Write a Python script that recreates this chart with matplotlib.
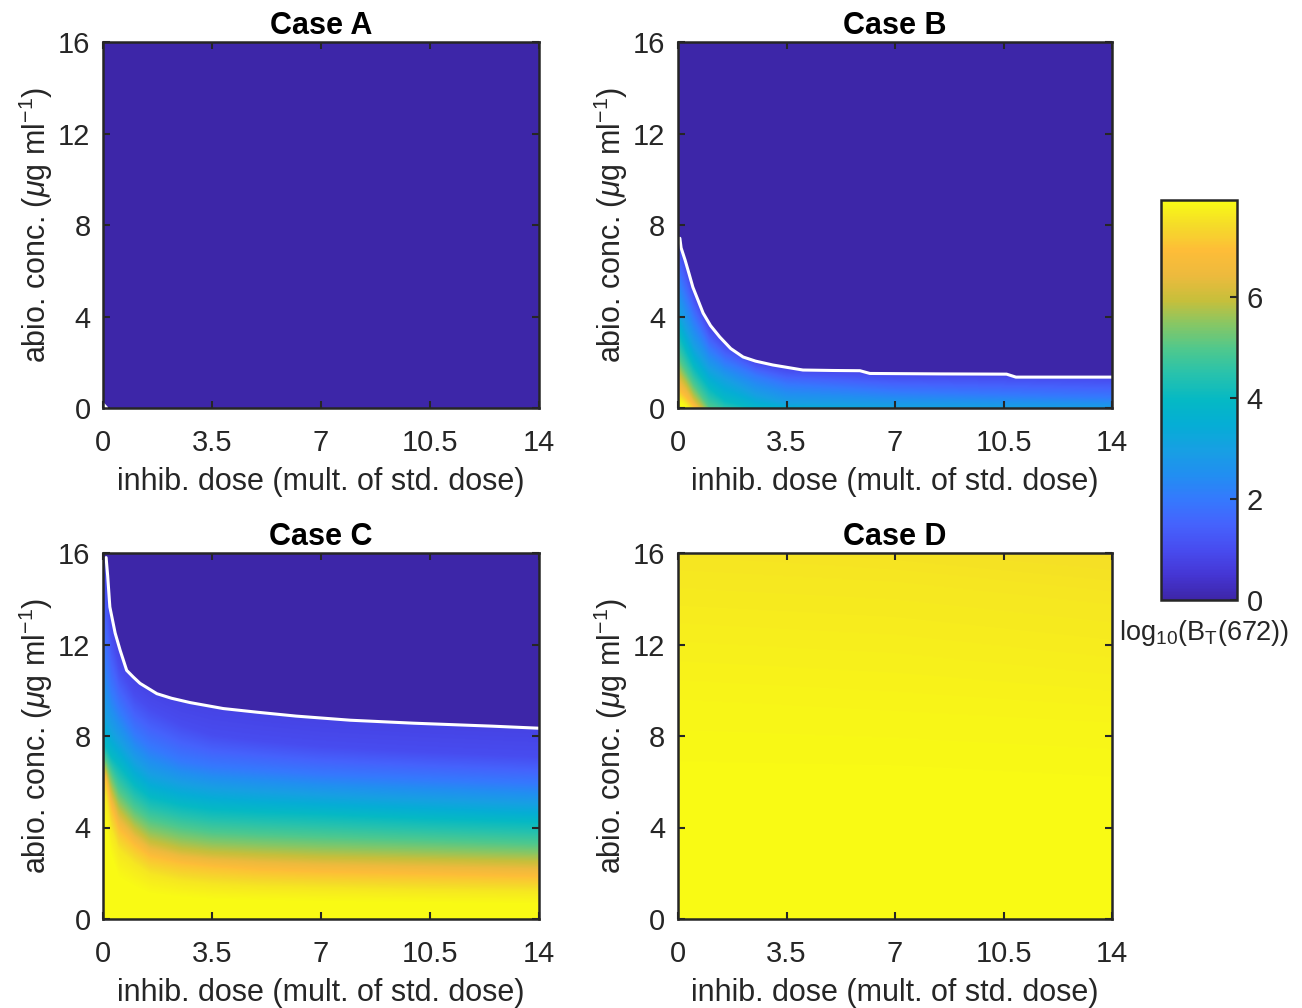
import numpy as np
import matplotlib
matplotlib.use('Agg')
import matplotlib.pyplot as plt
from matplotlib.colors import LinearSegmentedColormap

# ---------------- data ----------------
titles = ['Case A', 'Case B', 'Case C', 'Case D']
x_ticks = [0, 3.5, 7, 10.5, 14]
x_tick_labels = ['0', '3.5', '7', '10.5', '14']
y_ticks = [0, 4, 8, 12, 16]
cbar_ticks = [0, 2, 4, 6]
value_min = 0.0
value_max = 7.92

# white extinction contour of each case (inhib. dose, abio. conc.)
contour_a_x = [0.0, 0.12]
contour_a_y = [0.18, 0.0]
contour_b_x = [0.06, 0.10, 0.23, 0.35, 0.48, 0.65, 0.81, 1.05, 1.35, 1.70, 2.10, 2.50,
               3.06, 3.50, 4.03, 5.00, 5.87, 6.19, 8.50, 10.60, 10.90, 14.00]
contour_b_y = [7.42, 7.00, 6.46, 5.90, 5.28, 4.70, 4.15, 3.60, 3.10, 2.60, 2.23, 2.05,
               1.88, 1.78, 1.66, 1.64, 1.63, 1.51, 1.49, 1.48, 1.35, 1.35]
contour_c_x = [0.10, 0.15, 0.22, 0.39, 0.55, 0.76, 0.97, 1.19, 1.73, 2.20, 2.80, 3.86,
               4.95, 6.20, 7.94, 9.97, 12.50, 14.00]
contour_c_y = [15.80, 15.00, 13.64, 12.50, 11.75, 10.87, 10.58, 10.30, 9.85, 9.65, 9.46, 9.20,
               9.04, 8.87, 8.69, 8.56, 8.43, 8.34]

# case A: extinct everywhere
value_a = 0.0

# case B: heights (abio. conc.) of log10 iso-levels at sampled doses
levels_b = [0.8, 1, 2, 3, 4, 5, 6, 7, 7.6, 7.9]
doses_b = [0, 0.25, 0.5, 1.0, 1.5, 2.5, 3.5, 7, 14]
heights_b = [
    [7.40, 6.40, 5.20, 3.65, 2.90, 2.05, 1.78, 1.50, 1.35],
    [7.20, 6.10, 4.95, 3.45, 2.75, 1.95, 1.65, 1.40, 1.25],
    [5.80, 4.80, 3.90, 2.60, 2.00, 1.40, 1.00, 0.70, 0.45],
    [4.30, 3.50, 2.70, 1.70, 1.25, 0.55, 0.20, 0.05, -0.05],
    [3.30, 2.50, 1.80, 0.85, 0.30, -0.10, -0.20, -0.30, -0.40],
    [2.20, 1.60, 1.00, 0.00, -0.30, -0.50, -0.60, -0.70, -0.80],
    [1.50, 1.00, 0.40, -0.40, -0.80, -0.90, -1.00, -1.10, -1.20],
    [0.80, 0.45, 0.05, -0.80, -1.20, -1.30, -1.40, -1.50, -1.60],
    [0.50, 0.20, -0.20, -1.00, -1.50, -1.60, -1.70, -1.80, -1.90],
    [0.25, 0.00, -0.40, -1.20, -1.70, -1.80, -1.90, -2.00, -2.10],
]

# case C
levels_c = [0.8, 1, 2, 3, 4, 5, 6, 7, 7.6, 7.9]
doses_c = [0, 0.1, 0.25, 0.5, 1, 1.5, 2.5, 3.5, 5, 7, 10.5, 14]
heights_c = [
    [16.0, 15.8, 13.3, 11.9, 10.6, 10.1, 9.55, 9.3, 9.05, 8.75, 8.5, 8.3],
    [15.0, 14.5, 12.5, 11.0, 9.8, 9.2, 8.5, 8.05, 7.8, 7.55, 7.3, 7.1],
    [11.5, 11.0, 10.0, 9.2, 8.1, 7.5, 6.9, 6.65, 6.5, 6.3, 6.1, 5.9],
    [9.0, 8.8, 8.3, 7.8, 6.9, 6.3, 5.9, 5.7, 5.55, 5.4, 5.2, 5.0],
    [7.6, 7.5, 7.1, 6.7, 5.85, 5.3, 4.95, 4.75, 4.65, 4.55, 4.35, 4.2],
    [7.0, 6.9, 6.4, 5.6, 4.8, 4.3, 3.95, 3.75, 3.65, 3.55, 3.4, 3.25],
    [6.5, 6.4, 5.6, 4.7, 3.9, 3.35, 3.0, 2.85, 2.75, 2.65, 2.55, 2.45],
    [6.1, 6.0, 4.9, 3.9, 3.2, 2.7, 2.4, 2.25, 2.1, 2.0, 1.9, 1.8],
    [5.4, 5.3, 4.0, 3.0, 2.4, 1.95, 1.65, 1.5, 1.4, 1.35, 1.25, 1.2],
    [4.1, 4.0, 2.8, 1.8, 1.4, 1.1, 0.95, 0.85, 0.8, 0.75, 0.7, 0.65],
]

# case D: survives everywhere
levels_d = [7.45, 7.6, 7.72, 7.83, 7.92]
doses_d = [0, 7, 14]
heights_d = [
    [18.0, 17.0, 16.3],
    [15.5, 15.0, 14.0],
    [12.5, 12.0, 11.0],
    [9.5, 9.0, 8.5],
    [5.5, 5.5, 5.0],
]

# ---------------- colormap (MATLAB parula look) ----------------
parula_pos = [0.0, 0.063, 0.125, 0.188, 0.25, 0.313, 0.375, 0.438, 0.5, 0.563,
              0.625, 0.688, 0.75, 0.813, 0.875, 0.938, 1.0]
parula_rgb = [(0.242, 0.150, 0.660), (0.270, 0.214, 0.835), (0.281, 0.299, 0.940),
              (0.271, 0.386, 0.990), (0.207, 0.474, 0.993), (0.130, 0.560, 0.945),
              (0.090, 0.625, 0.890), (0.020, 0.680, 0.835), (0.020, 0.725, 0.770),
              (0.150, 0.760, 0.680), (0.300, 0.785, 0.560), (0.520, 0.780, 0.400),
              (0.780, 0.750, 0.230), (0.930, 0.730, 0.240), (0.995, 0.740, 0.220),
              (0.960, 0.860, 0.160), (0.977, 0.984, 0.081)]
cmap = LinearSegmentedColormap.from_list('parula_like', list(zip(parula_pos, parula_rgb)), N=256)

# ---------------- style ----------------
plt.rcParams['font.family'] = ['Liberation Sans', 'DejaVu Sans']
plt.rcParams['mathtext.fontset'] = 'custom'
plt.rcParams['mathtext.rm'] = 'Liberation Sans'
plt.rcParams['mathtext.it'] = 'Liberation Sans:italic'
plt.rcParams['mathtext.bf'] = 'Liberation Sans:bold'
TXT = '#262626'

xs = np.linspace(0, 14, 700)
ys = np.linspace(0, 16, 700)


def field_from_levels(doses, levels, heights):
    H = np.array([np.interp(xs, doses, row) for row in heights])
    lev = np.array(levels, dtype=float)[::-1]
    Z = np.empty((len(ys), len(xs)))
    for j in range(len(xs)):
        Z[:, j] = np.interp(ys, H[::-1, j], lev)
    return Z


def mask_above(Z, cx, cy):
    bnd = np.interp(xs, cx, cy)
    Z = Z.copy()
    Z[ys[:, None] > bnd[None, :]] = 0.0
    return Z


Z_a = np.full((len(ys), len(xs)), value_a)
Z_b = mask_above(field_from_levels(doses_b, levels_b, heights_b), contour_b_x, contour_b_y)
Z_c = mask_above(field_from_levels(doses_c, levels_c, heights_c), contour_c_x, contour_c_y)
Z_d = field_from_levels(doses_d, levels_d, heights_d)

fields = [Z_a, Z_b, Z_c, Z_d]
contours = [(contour_a_x, contour_a_y), (contour_b_x, contour_b_y),
            (contour_c_x, contour_c_y), None]

W, Hh = 1302, 1008
fig = plt.figure(figsize=(W / 100, Hh / 100), dpi=100)

boxes = [(103, 42, 539, 408), (678, 42, 1112, 408),
         (103, 553, 539, 919), (678, 553, 1112, 919)]

im = None
for k in range(4):
    x0, y0, x1, y1 = boxes[k]
    ax = fig.add_axes([x0 / W, 1 - y1 / Hh, (x1 - x0) / W, (y1 - y0) / Hh])
    im = ax.imshow(fields[k], origin='lower', extent=[0, 14, 0, 16], aspect='auto',
                   cmap=cmap, vmin=value_min, vmax=value_max, interpolation='bilinear')
    if contours[k] is not None:
        ax.plot(contours[k][0], contours[k][1], color='white', lw=2.2, solid_capstyle='round')
    ax.set_xlim(0, 14)
    ax.set_ylim(0, 16)
    ax.set_xticks(x_ticks)
    ax.set_xticklabels(x_tick_labels)
    ax.set_yticks(y_ticks)
    ax.tick_params(direction='in', length=5, width=1.5, top=True, right=True,
                   labelsize=21, colors=TXT, labelcolor=TXT)
    ax.tick_params(axis='x', pad=15)
    ax.tick_params(axis='y', pad=9)
    for s in ax.spines.values():
        s.set_linewidth(1.8)
        s.set_color(TXT)
    ax.set_title(titles[k], fontsize=22, fontweight='bold', color='black', pad=6)
    ax.set_xlabel('inhib. dose (mult. of std. dose)', fontsize=22, color=TXT, labelpad=7)
    ax.set_ylabel(r'abio. conc. ($\mu$g ml$^{-1}$)', fontsize=22, color=TXT, labelpad=2)

cax = fig.add_axes([1161 / W, 1 - 600 / Hh, (1237 - 1161) / W, 400 / Hh])
cb = fig.colorbar(im, cax=cax, ticks=cbar_ticks)
cb.outline.set_linewidth(1.8)
cb.outline.set_edgecolor(TXT)
cax.tick_params(direction='in', length=5, width=1.5, labelsize=21, colors=TXT, pad=7)
fig.text(1204 / W, 1 - 640 / Hh, r'log$_{10}$(B$_\mathrm{T}$(672))', fontsize=19.5,
         color=TXT, ha='center', va='baseline')

fig.savefig('out.png', dpi=100)
